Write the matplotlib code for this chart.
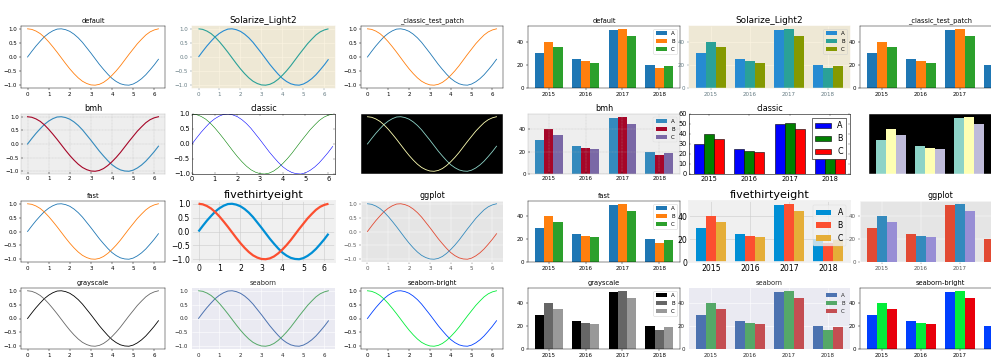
import numpy as np
import matplotlib
matplotlib.use('Agg')
import matplotlib.pyplot as plt

# curve samples
x_vals = [0.0, 0.2, 0.4, 0.6, 0.8, 1.0, 1.2, 1.4, 1.6, 1.8, 2.0, 2.2, 2.4, 2.6, 2.8, 3.0,
          3.2, 3.4, 3.6, 3.8, 4.0, 4.2, 4.4, 4.6, 4.8, 5.0, 5.2, 5.4, 5.6, 5.8, 6.0, 6.2]
sin_vals = [0.00, 0.20, 0.39, 0.56, 0.72, 0.84, 0.93, 0.99, 1.00, 0.97, 0.91, 0.81, 0.68, 0.52, 0.33, 0.14,
            -0.06, -0.26, -0.44, -0.61, -0.76, -0.87, -0.95, -0.99, -1.00, -0.96, -0.88, -0.77, -0.63, -0.46, -0.28, -0.08]
cos_vals = [1.00, 0.98, 0.92, 0.83, 0.70, 0.54, 0.36, 0.17, -0.03, -0.23, -0.42, -0.59, -0.74, -0.86, -0.94, -0.99,
            -1.00, -0.97, -0.90, -0.79, -0.65, -0.49, -0.31, -0.11, 0.09, 0.28, 0.47, 0.63, 0.78, 0.89, 0.96, 1.00]

# bar data
years = ['2015', '2016', '2017', '2018']
series_names = ['A', 'B', 'C']
a_vals = [30, 25, 50, 20]
b_vals = [40, 23, 51, 17]
c_vals = [35, 22, 45, 19]

styles = [['default', 'Solarize_Light2', '_classic_test_patch'],
          ['bmh', 'classic', 'dark_background'],
          ['fast', 'fivethirtyeight', 'ggplot'],
          ['grayscale', 'seaborn-v0_8', 'seaborn-v0_8-bright']]

W, H, DPI = 991, 364, 40
fig = plt.figure(figsize=(W / DPI, H / DPI), dpi=DPI)
fig.patch.set_facecolor('white')

# pixel boxes (left, right) / (top, bottom)
line_cols = [(21, 165), (192, 335), (361, 503)]
bar_cols = [(528, 680), (689, 850), (860, 1021)]
rows = [(26, 88), (114, 174), (201, 262), (288, 349)]


def box(col, row):
    x0, x1 = col
    y0, y1 = row
    return [x0 / W, 1 - y1 / H, (x1 - x0) / W, (y1 - y0) / H]


def title_of(style):
    return style.replace('seaborn-v0_8', 'seaborn')


def line_panel(style, rect):
    with plt.style.context(style):
        ax = fig.add_axes(rect)
        ax.plot(x_vals, sin_vals)
        ax.plot(x_vals, cos_vals)
        if style == 'classic':
            ax.set_xlim(0, 6.3)
        ax.set_title(title_of(style))
        ax.xaxis.get_major_ticks()
        ax.yaxis.get_major_ticks()
    return ax


def bar_panel(style, rect):
    with plt.style.context(style):
        ax = fig.add_axes(rect)
        pos = np.arange(len(years))
        w = 0.25
        for i, (name, vals) in enumerate(zip(series_names, [a_vals, b_vals, c_vals])):
            ax.bar(pos + (i - 1) * w, vals, w, label=name)
        ax.set_xticks(pos)
        ax.set_xticklabels(years)
        ax.legend(loc='upper right')
        ax.set_title(title_of(style))
        ax.xaxis.get_major_ticks()
        ax.yaxis.get_major_ticks()
    return ax


for r, row_styles in enumerate(styles):
    for c, st in enumerate(row_styles):
        line_panel(st, box(line_cols[c], rows[r]))
        bcol = bar_cols[c]
        if st == 'dark_background':
            bcol = (869, 1030)
        bar_panel(st, box(bcol, rows[r]))

fig.savefig('out.png', dpi=DPI, facecolor='white')
